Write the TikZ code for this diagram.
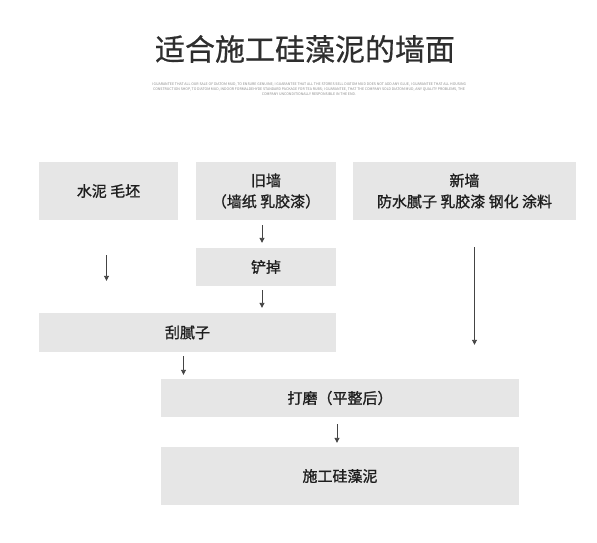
\documentclass[tikz,border=0pt]{standalone}
\usepackage{fontspec}
\setmainfont{Noto Sans CJK SC}
\newfontfamily\boxfont{Noto Sans CJK SC}[FakeBold=1.2]
\newfontfamily\titlefont{Noto Sans CJK SC}[FakeBold=0.6]
\usetikzlibrary{arrows.meta}
\definecolor{boxgray}{HTML}{E6E6E6}
\definecolor{txtgray}{HTML}{1E1E1E}
\definecolor{titlegray}{HTML}{2E2E2E}
\definecolor{notegray}{HTML}{888888}
\definecolor{arrgray}{HTML}{444444}
\tikzset{
  stepbox/.style={fill=boxgray, text=txtgray, font=\boxfont\fontsize{15}{21}\selectfont, align=center, inner sep=0pt},
  arr/.style={arrgray, line width=0.9pt, -{Triangle[width=5pt,length=5pt]}}
}
\begin{document}
\begin{tikzpicture}[x=1pt,y=-1pt]
\useasboundingbox (0,0) rectangle (597,543);

\node[font=\titlefont\fontsize{30}{30}\selectfont, text=titlegray, inner sep=0pt] (title) at (305,49) {适合施工硅藻泥的墙面};
\node[font=\fontsize{3.55}{5}\selectfont, text=notegray, align=center, inner sep=0pt] (note) at (309,89)
  {I GUARANTEE THAT ALL OUR SALE OF DIATOM MUD, TO ENSURE GENUINE; I GUARANTEE THAT ALL THE STORES SELL DIATOM MUD DOES NOT ADD ANY GLUE, I GUARANTEE THAT ALL HOUSING\\
   CONSTRUCTION SHOP, TO DIATOM MUD, INDOOR FORMALDEHYDE STANDARD PACKAGE FOR TEA RUBS; I GUARANTEE, THAT THE COMPANY SOLD DIATOM MUD, ANY QUALITY PROBLEMS, THE\\
   COMPANY UNCONDITIONALLY RESPONSIBLE IN THE END.};

\node[stepbox, minimum width=139pt, minimum height=58pt] (sn) at (108.5,191) {水泥 毛坯};
\node[stepbox, minimum width=140pt, minimum height=58pt] (jq) at (266,191) {旧墙\\（墙纸 乳胶漆）};
\node[stepbox, minimum width=223pt, minimum height=58pt] (xq) at (464.5,191) {新墙\\防水腻子 乳胶漆 钢化 涂料};
\node[stepbox, minimum width=140pt, minimum height=38pt] (cd) at (266,267) {铲掉};
\node[stepbox, minimum width=297pt, minimum height=39pt] (gnz) at (187.5,332.5) {刮腻子};
\node[stepbox, minimum width=358pt, minimum height=38pt] (dm) at (340,398) {打磨（平整后）};
\node[stepbox, minimum width=358pt, minimum height=58pt] (sg) at (340,476) {施工硅藻泥};

\draw[arr, shorten <=35pt, shorten >=32pt] ([xshift=-2pt]sn.south) -- ([xshift=-2pt]sn.south |- gnz.north);
\draw[arr, shorten <=5pt, shorten >=5pt] ([xshift=-4pt]jq.south) -- ([xshift=-4pt]cd.north);
\draw[arr, shorten <=4pt, shorten >=5pt] ([xshift=-4pt]cd.south) -- ([xshift=-4pt]cd.south |- gnz.north);
\draw[arr, shorten <=27pt, shorten >=34pt] ([xshift=10pt]xq.south) -- ([xshift=10pt]xq.south |- dm.north);
\draw[arr, shorten <=4pt, shorten >=4pt] ([xshift=-4pt]gnz.south) -- ([xshift=-4pt]gnz.south |- dm.north);
\draw[arr, shorten <=7pt, shorten >=4pt] ([xshift=-3pt]dm.south) -- ([xshift=-3pt]sg.north);

\end{tikzpicture}
\end{document}
